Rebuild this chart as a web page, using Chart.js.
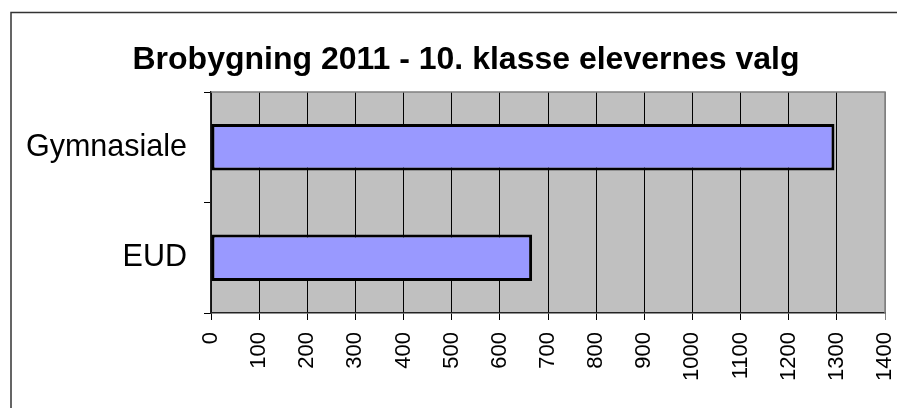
<!DOCTYPE html>
<html>
<head>
<meta charset="utf-8">
<script src="https://cdn.jsdelivr.net/npm/chart.js@4"></script>
<style>
    body { margin: 0; background: #fff; }
    canvas { display: block; }
</style>
</head>
<body>
<canvas id="myChart" width="897" height="408"></canvas>
<script>
const chart_title = 'Brobygning 2011 - 10. klasse elevernes valg';
const categories = ['Gymnasiale', 'EUD'];
const students = [1295, 667];
const x_min = 0;
const x_max = 1400;
const x_step = 100;

// grey plot area, outer frame, top border and the title
const frame_plugin = {
    id: 'frame',
    beforeDraw(chart) {
        const ctx = chart.ctx;
        const a = chart.chartArea;
        ctx.save();
        ctx.fillStyle = '#C0C0C0';
        ctx.fillRect(a.left, a.top, a.right - a.left, a.bottom - a.top);
        ctx.restore();
    },
    afterDraw(chart) {
        const ctx = chart.ctx;
        const a = chart.chartArea;
        ctx.save();
        ctx.strokeStyle = '#333';
        ctx.lineWidth = 1.5;
        ctx.beginPath();
        ctx.moveTo(11, 408);
        ctx.lineTo(11, 12.5);
        ctx.lineTo(897, 12.5);
        ctx.stroke();

        ctx.strokeStyle = '#808080';
        ctx.lineWidth = 1.5;
        ctx.beginPath();
        ctx.moveTo(a.left, a.top);
        ctx.lineTo(a.right, a.top);
        ctx.lineTo(a.right, a.bottom);
        ctx.stroke();

        ctx.fillStyle = '#000';
        ctx.font = 'bold 32px "Liberation Sans", Arial, sans-serif';
        ctx.textAlign = 'center';
        ctx.textBaseline = 'alphabetic';
        ctx.fillText(chart_title, 466, 69);
        ctx.restore();
    }
};

let ctx = document.getElementById('myChart').getContext('2d');

let myChart = new Chart(ctx, {
    type: 'bar',
    data: {
        labels: categories,
        datasets: [{
            label: 'Elever',
            data: students,
            backgroundColor: '#9999FF',
            borderColor: '#000',
            borderWidth: 3,
            borderSkipped: false,
            barPercentage: 0.42,
            categoryPercentage: 1,
        }]
    },
    options: {
        indexAxis: 'y',
        responsive: false,
        animation: false,
        layout: {
            padding: { top: 92, right: 12, bottom: 0, left: 0 }
        },
        scales: {
            x: {
                min: x_min,
                max: x_max,
                afterFit: function(scale) {
                    scale.height = 95;
                    scale.paddingLeft = 0;
                    scale.paddingRight = 0;
                },
                ticks: {
                    stepSize: x_step,
                    autoSkip: false,
                    minRotation: 90,
                    maxRotation: 90,
                    padding: 12,
                    color: '#000',
                    font: { family: '"Liberation Sans", Arial, sans-serif', size: 22 },
                    callback: function(value) {
                        return String(value);
                    }
                },
                grid: {
                    color: function(c) {
                        return c.tick && c.tick.value === x_max ? '#808080' : '#000';
                    },
                    lineWidth: 1,
                    tickLength: 7,
                },
                border: { color: '#222', width: 1.5 }
            },
            y: {
                afterFit: function(scale) {
                    scale.width = 211;
                    scale.paddingTop = 0;
                    scale.paddingBottom = 0;
                },
                ticks: {
                    padding: 17,
                    color: '#000',
                    font: { family: '"Liberation Sans", Arial, sans-serif', size: 30.5 }
                },
                grid: {
                    drawOnChartArea: false,
                    color: '#000',
                    tickLength: 7,
                },
                border: { color: '#222', width: 1.5 }
            }
        },
        plugins: {
            legend: { display: false },
            tooltip: { enabled: false },
            title: { display: false }
        }
    },
    plugins: [frame_plugin]
});
</script>
</body>
</html>
